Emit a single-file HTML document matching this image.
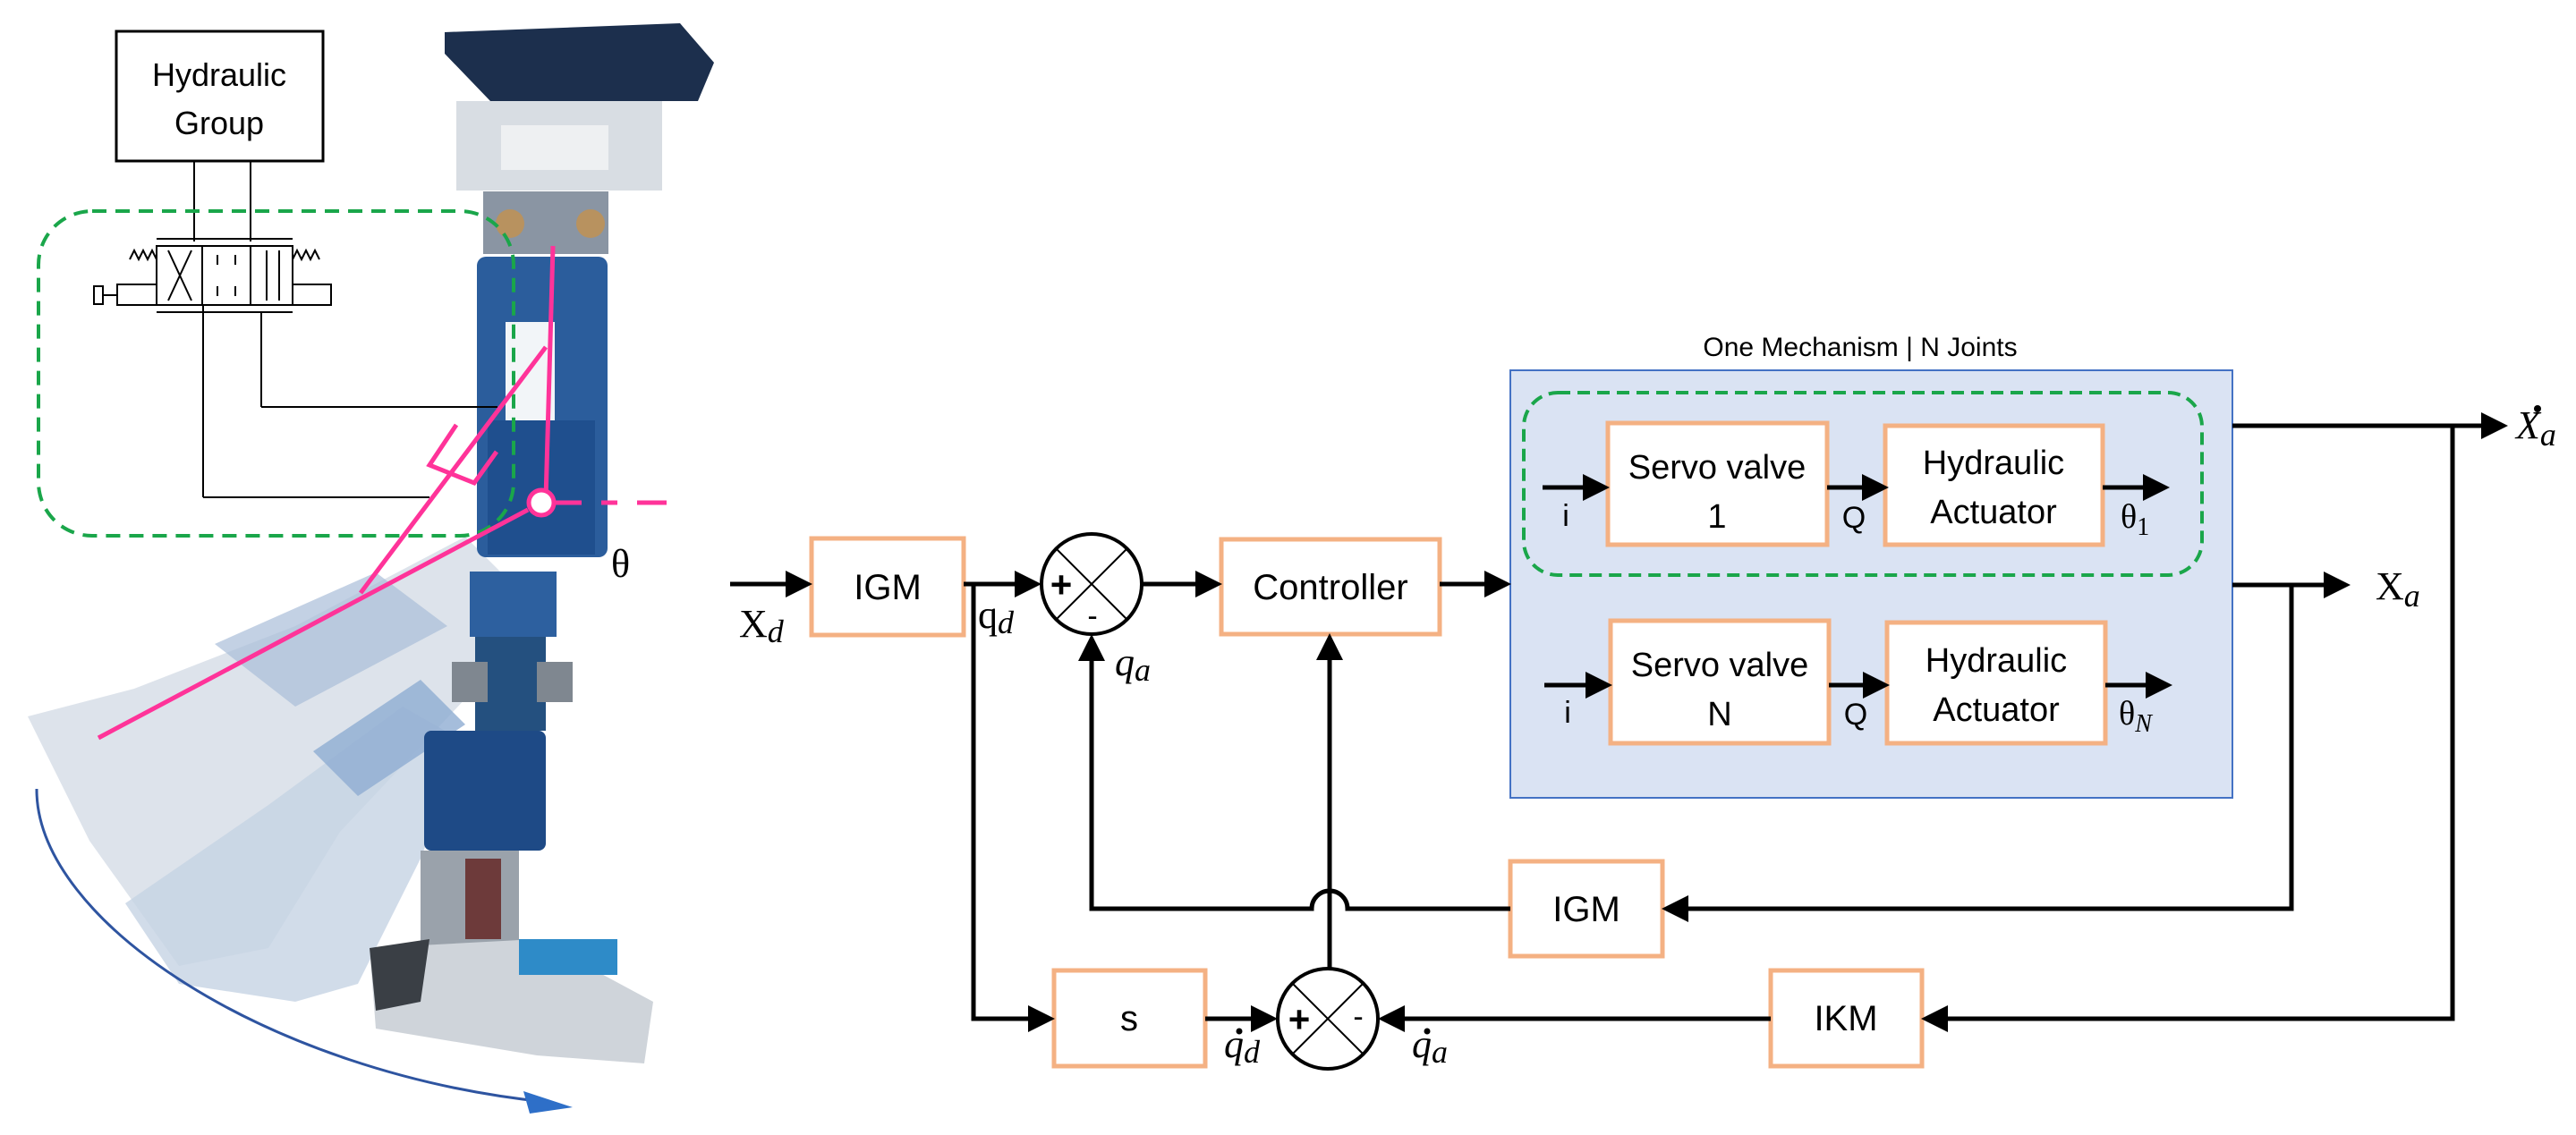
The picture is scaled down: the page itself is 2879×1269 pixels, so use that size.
<!DOCTYPE html>
<html><head><meta charset="utf-8"><style>
html,body{margin:0;padding:0;background:#fff;}
svg{display:block;}
.box{fill:#fff;stroke:#f4b183;stroke-width:5;}
.t{font-family:"Liberation Sans",sans-serif;font-size:40px;fill:#000;text-anchor:middle;}
.m{font-family:"Liberation Serif",serif;font-size:40px;fill:#000;}
.ln{stroke:#000;stroke-width:5;fill:none;}
</style></head><body>
<svg width="2879" height="1269" viewBox="0 0 2879 1269" xmlns="http://www.w3.org/2000/svg">
<defs>
<marker id="a" markerWidth="6" markerHeight="6" refX="5" refY="3" orient="auto" markerUnits="strokeWidth"><path d="M0,0 L6,3 L0,6 z" fill="#000"/></marker>
</defs>

<!-- LEFT: robot illustration approximation -->
<g>
  <polygon points="31,801 150,770 330,700 520,600 560,640 540,760 380,930 300,1060 200,1080 100,940" fill="#d4dce6" opacity="0.8"/>
  <polygon points="140,1010 300,900 450,790 520,830 470,960 400,1100 330,1120 200,1100" fill="#c5d3e3" opacity="0.8"/>
  <polygon points="240,720 420,640 500,700 330,790" fill="#a9bed8" opacity="0.7"/>
  <polygon points="350,840 470,760 520,810 400,890" fill="#8fadd2" opacity="0.8"/>
  <polygon points="497,36 760,26 798,70 780,113 548,113 497,60" fill="#1c2f4d"/>
  <rect x="510" y="113" width="230" height="100" fill="#d8dde3"/>
  <rect x="560" y="140" width="120" height="50" fill="#eef0f2"/>
  <rect x="540" y="214" width="140" height="70" fill="#8a95a3"/>
  <circle cx="570" cy="250" r="16" fill="#b8925f"/><circle cx="660" cy="250" r="16" fill="#b8925f"/>
  <rect x="533" y="287" width="146" height="336" rx="10" fill="#2b5d9c"/>
  <rect x="565" y="360" width="55" height="120" fill="#f2f5f8"/>
  <rect x="545" y="470" width="120" height="150" fill="#1f4f8e"/>
  <rect x="525" y="639" width="97" height="73" fill="#2d609f"/>
  <rect x="531" y="712" width="79" height="105" fill="#24507f"/>
  <rect x="505" y="740" width="40" height="45" fill="#7f8790"/><rect x="600" y="740" width="40" height="45" fill="#7f8790"/>
  <rect x="474" y="817" width="136" height="134" rx="8" fill="#1e4a86"/>
  <rect x="470" y="951" width="110" height="110" fill="#9aa2ab"/>
  <rect x="520" y="960" width="40" height="90" fill="#6d3a3a"/>
  <polygon points="413,1060 600,1050 730,1120 720,1189 600,1180 420,1150" fill="#cfd4da"/>
  <polygon points="413,1060 480,1050 470,1120 420,1130" fill="#3a3f45"/>
  <rect x="580" y="1050" width="110" height="40" fill="#2e8bc8"/>
  <rect x="130" y="35" width="231" height="145" fill="#fff" stroke="#000" stroke-width="3"/>
  <text x="245" y="96" class="t" style="font-size:36px">Hydraulic</text>
  <text x="245" y="150" class="t" style="font-size:36px">Group</text>
  <g stroke="#000" stroke-width="2" fill="none">
    <line x1="217" y1="180" x2="217" y2="270"/><line x1="280" y1="180" x2="280" y2="270"/>
    <rect x="175" y="275" width="152" height="66" fill="#fff"/>
    <line x1="226" y1="275" x2="226" y2="341"/><line x1="280" y1="275" x2="280" y2="341"/>
    <line x1="175" y1="267" x2="327" y2="267"/><line x1="175" y1="349" x2="327" y2="349"/>
    <line x1="188" y1="280" x2="214" y2="336"/><line x1="214" y1="280" x2="188" y2="336"/>
    <line x1="298" y1="280" x2="298" y2="336"/><line x1="312" y1="280" x2="312" y2="336"/>
    <line x1="243" y1="285" x2="243" y2="296"/><line x1="263" y1="285" x2="263" y2="296"/>
    <line x1="243" y1="320" x2="243" y2="331"/><line x1="263" y1="320" x2="263" y2="331"/>
    <rect x="131" y="318" width="44" height="23"/><rect x="327" y="318" width="43" height="23"/>
    <rect x="105" y="320" width="10" height="20"/><line x1="115" y1="330" x2="131" y2="330"/>
    <polyline points="145,290 150,280 155,290 160,280 165,290 170,280 175,290"/>
    <polyline points="327,290 332,280 337,290 342,280 347,290 352,280 357,290"/>
    <line x1="227" y1="341" x2="227" y2="556"/><line x1="227" y1="556" x2="480" y2="556"/>
    <line x1="292" y1="349" x2="292" y2="455"/><line x1="292" y1="455" x2="556" y2="455"/>
  </g>
  <rect x="43" y="236" width="531" height="363" rx="60" fill="none" stroke="#1aa64a" stroke-width="4" stroke-dasharray="16,10"/>
  <g stroke="#ff3399" stroke-width="5" fill="none">
    <line x1="618" y1="275" x2="610" y2="558"/>
    <line x1="590" y1="570" x2="110" y2="825"/>
    <line x1="610" y1="388" x2="403" y2="663"/>
    <polyline points="510,475 480,520 530,540 555,505"/>
    <line x1="620" y1="562" x2="650" y2="562"/>
    <line x1="672" y1="562" x2="690" y2="562"/><line x1="712" y1="562" x2="745" y2="562"/>
  </g>
  <circle cx="605" cy="562" r="14" fill="#fff" stroke="#ff3399" stroke-width="5"/>
  <text x="683" y="645" class="m" style="font-size:44px">θ</text>
  <path d="M41,882 C40,1030 300,1200 610,1232" stroke="#2e54a0" stroke-width="3" fill="none"/>
  <polygon points="585,1220 640,1238 592,1245" fill="#2e6fc8"/>
</g>

<!-- RIGHT: block diagram -->
<text x="2079" y="398" class="t" style="font-size:30px">One Mechanism | N Joints</text>
<rect x="1688" y="414" width="807" height="478" fill="#dae3f3" stroke="#4472c4" stroke-width="2"/>
<rect x="1703" y="439" width="758" height="204" rx="38" fill="none" stroke="#1aa64a" stroke-width="4" stroke-dasharray="14,8"/>

<rect class="box" x="907" y="602" width="170" height="108"/><text x="992" y="670" class="t">IGM</text>
<rect class="box" x="1365" y="603" width="244" height="106"/><text x="1487" y="670" class="t">Controller</text>
<rect class="box" x="1178" y="1085" width="169" height="107"/><text x="1262" y="1152" class="t">s</text>
<rect class="box" x="1688" y="963" width="170" height="106"/><text x="1773" y="1030" class="t">IGM</text>
<rect class="box" x="1979" y="1085" width="169" height="107"/><text x="2063" y="1152" class="t">IKM</text>

<rect class="box" x="1797" y="473" width="245" height="136"/>
<text x="1919" y="535" class="t" style="font-size:38px">Servo valve</text><text x="1919" y="590" class="t" style="font-size:38px">1</text>
<rect class="box" x="2107" y="476" width="243" height="133"/>
<text x="2228" y="530" class="t" style="font-size:38px">Hydraulic</text><text x="2228" y="585" class="t" style="font-size:38px">Actuator</text>
<rect class="box" x="1800" y="694" width="244" height="137"/>
<text x="1922" y="756" class="t" style="font-size:38px">Servo valve</text><text x="1922" y="811" class="t" style="font-size:38px">N</text>
<rect class="box" x="2109" y="696" width="244" height="135"/>
<text x="2231" y="751" class="t" style="font-size:38px">Hydraulic</text><text x="2231" y="806" class="t" style="font-size:38px">Actuator</text>

<g class="ln" marker-end="url(#a)">
  <line x1="1724" y1="545" x2="1794" y2="545"/>
  <line x1="2042" y1="545" x2="2106" y2="545"/>
  <line x1="2350" y1="545" x2="2420" y2="545"/>
  <line x1="1726" y1="766" x2="1797" y2="766"/>
  <line x1="2044" y1="766" x2="2107" y2="766"/>
  <line x1="2353" y1="766" x2="2423" y2="766"/>
</g>
<text x="1750" y="588" class="t" style="font-size:34px">i</text>
<text x="2072" y="590" class="t" style="font-size:34px">Q</text>
<text x="1752" y="808" class="t" style="font-size:34px">i</text>
<text x="2074" y="810" class="t" style="font-size:34px">Q</text>
<text x="2370" y="590" class="m" style="font-size:38px">θ<tspan font-size="28" dy="8">1</tspan></text>
<text x="2368" y="810" class="m" style="font-size:38px">θ<tspan font-size="28" dy="8" font-style="italic">N</tspan></text>

<g class="ln">
  <line x1="816" y1="653" x2="903" y2="653" marker-end="url(#a)"/>
  <line x1="1077" y1="653" x2="1159" y2="653" marker-end="url(#a)"/>
  <line x1="1277" y1="653" x2="1361" y2="653" marker-end="url(#a)"/>
  <line x1="1609" y1="653" x2="1684" y2="653" marker-end="url(#a)"/>
  <polyline points="1088,653 1088,1139 1174,1139" marker-end="url(#a)"/>
  <line x1="1347" y1="1139" x2="1423" y2="1139" marker-end="url(#a)"/>
  <line x1="1486" y1="1082" x2="1486" y2="713" marker-end="url(#a)"/>
  <path d="M1688,1016 L1506,1016 A20,20 0 0 0 1466,1016 L1220,1016 L1220,714" marker-end="url(#a)"/>
  <line x1="1979" y1="1139" x2="1545" y2="1139" marker-end="url(#a)"/>
  <line x1="2495" y1="476" x2="2798" y2="476" marker-end="url(#a)"/>
  <polyline points="2741,476 2741,1139 2152,1139" marker-end="url(#a)"/>
  <line x1="2495" y1="654" x2="2622" y2="654" marker-end="url(#a)"/>
  <polyline points="2561,654 2561,1016 1862,1016" marker-end="url(#a)"/>
</g>

<g stroke="#000" fill="#fff">
  <circle cx="1220" cy="653" r="56" stroke-width="4"/>
  <line x1="1180" y1="613" x2="1260" y2="693" stroke-width="2"/><line x1="1260" y1="613" x2="1180" y2="693" stroke-width="2"/>
  <circle cx="1484" cy="1139" r="56" stroke-width="4"/>
  <line x1="1444" y1="1099" x2="1524" y2="1179" stroke-width="2"/><line x1="1524" y1="1099" x2="1444" y2="1179" stroke-width="2"/>
</g>
<text x="1186" y="668" class="t" style="font-size:42px;font-weight:bold">+</text>
<text x="1221" y="700" class="t" style="font-size:34px">-</text>
<text x="1452" y="1154" class="t" style="font-size:42px;font-weight:bold">+</text>
<text x="1518" y="1148" class="t" style="font-size:34px">-</text>

<text x="826" y="712" class="m" style="font-size:44px">X<tspan font-style="italic" font-size="36" dy="6">d</tspan></text>
<text x="1093" y="702" class="m" style="font-size:44px">q<tspan font-style="italic" font-size="36" dy="6">d</tspan></text>
<text x="1246" y="755" class="m" font-style="italic" style="font-size:44px">q<tspan font-size="36" dy="6">a</tspan></text>
<text x="1368" y="1182" class="m" font-style="italic" style="font-size:44px">q<tspan font-size="36" dy="6">d</tspan></text>
<circle cx="1385" cy="1153" r="3.5" fill="#000"/>
<text x="1578" y="1182" class="m" font-style="italic" style="font-size:44px">q<tspan font-size="36" dy="6">a</tspan></text>
<circle cx="1595" cy="1153" r="3.5" fill="#000"/>
<text x="2812" y="490" class="m" font-style="italic" style="font-size:44px">X<tspan font-size="36" dy="8">a</tspan></text>
<circle cx="2836" cy="457" r="4" fill="#000"/>
<text x="2655" y="670" class="m" style="font-size:44px">X<tspan font-style="italic" font-size="36" dy="8">a</tspan></text>
</svg>
</body></html>
